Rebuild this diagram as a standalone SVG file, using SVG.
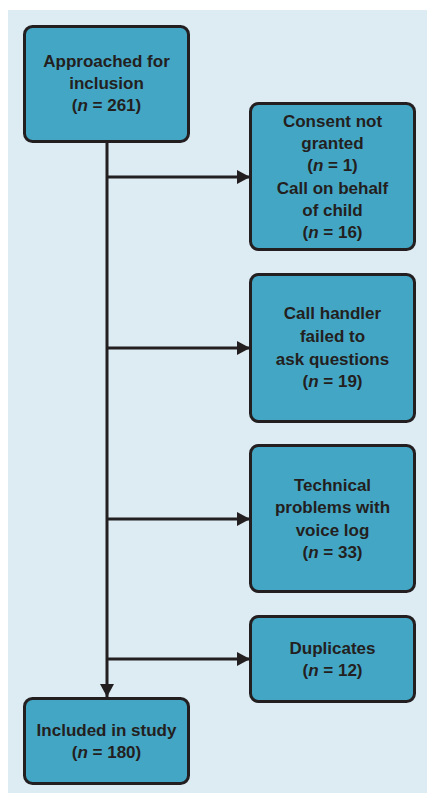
<svg xmlns="http://www.w3.org/2000/svg" width="427" height="793" viewBox="0 0 427 793">
<style>
.box{fill:#43a6c5;stroke:#231f20;stroke-width:3}
.t{font-family:"Liberation Sans",Arial,sans-serif;font-weight:bold;font-size:17px;fill:#231f20;text-anchor:middle}
.ln{stroke:#231f20;stroke-width:3;fill:none}
</style>
<defs>
<marker id="ah" markerWidth="13" markerHeight="14" refX="13" refY="7" orient="auto" markerUnits="userSpaceOnUse">
<path d="M0,0 L13,7 L0,14 Z" fill="#231f20"/>
</marker>
</defs>
<rect x="8" y="10" width="419" height="783" fill="#ddebf2"/>
<g id="connectors">
<line class="ln" x1="107" y1="142" x2="107" y2="697" marker-end="url(#ah)"/>
<line class="ln" x1="107" y1="177" x2="250" y2="177" marker-end="url(#ah)"/>
<line class="ln" x1="107" y1="348" x2="250" y2="348" marker-end="url(#ah)"/>
<line class="ln" x1="107" y1="519" x2="250" y2="519" marker-end="url(#ah)"/>
<line class="ln" x1="107" y1="659" x2="250" y2="659" marker-end="url(#ah)"/>
</g>
<g id="approached">
<rect class="box" x="24.5" y="26.5" width="164" height="115" rx="8"/>
<text class="t" x="106.5" y="67">Approached for</text>
<text class="t" x="106.5" y="89">inclusion</text>
<text class="t" x="106.5" y="111">(<tspan font-style="italic">n</tspan> = 261)</text>
</g>
<g id="excluded-consent">
<rect class="box" x="250.5" y="103.5" width="164" height="146" rx="8"/>
<text class="t" x="332.5" y="127">Consent not</text>
<text class="t" x="332.5" y="149">granted</text>
<text class="t" x="332.5" y="171">(<tspan font-style="italic">n</tspan> = 1)</text>
<text class="t" x="332.5" y="194">Call on behalf</text>
<text class="t" x="332.5" y="216">of child</text>
<text class="t" x="332.5" y="238">(<tspan font-style="italic">n</tspan> = 16)</text>
</g>
<g id="excluded-handler">
<rect class="box" x="250.5" y="274.5" width="164" height="147" rx="8"/>
<text class="t" x="332.5" y="319">Call handler</text>
<text class="t" x="332.5" y="342">failed to</text>
<text class="t" x="332.5" y="365">ask questions</text>
<text class="t" x="332.5" y="387">(<tspan font-style="italic">n</tspan> = 19)</text>
</g>
<g id="excluded-technical">
<rect class="box" x="250.5" y="445.5" width="164" height="146" rx="8"/>
<text class="t" x="332.5" y="491">Technical</text>
<text class="t" x="332.5" y="513">problems with</text>
<text class="t" x="332.5" y="536">voice log</text>
<text class="t" x="332.5" y="558">(<tspan font-style="italic">n</tspan> = 33)</text>
</g>
<g id="excluded-duplicates">
<rect class="box" x="250.5" y="616.5" width="164" height="85" rx="8"/>
<text class="t" x="332.5" y="654">Duplicates</text>
<text class="t" x="332.5" y="676">(<tspan font-style="italic">n</tspan> = 12)</text>
</g>
<g id="included">
<rect class="box" x="24.5" y="698.5" width="164" height="85" rx="8"/>
<text class="t" x="106.5" y="736">Included in study</text>
<text class="t" x="106.5" y="758">(<tspan font-style="italic">n</tspan> = 180)</text>
</g>
</svg>
